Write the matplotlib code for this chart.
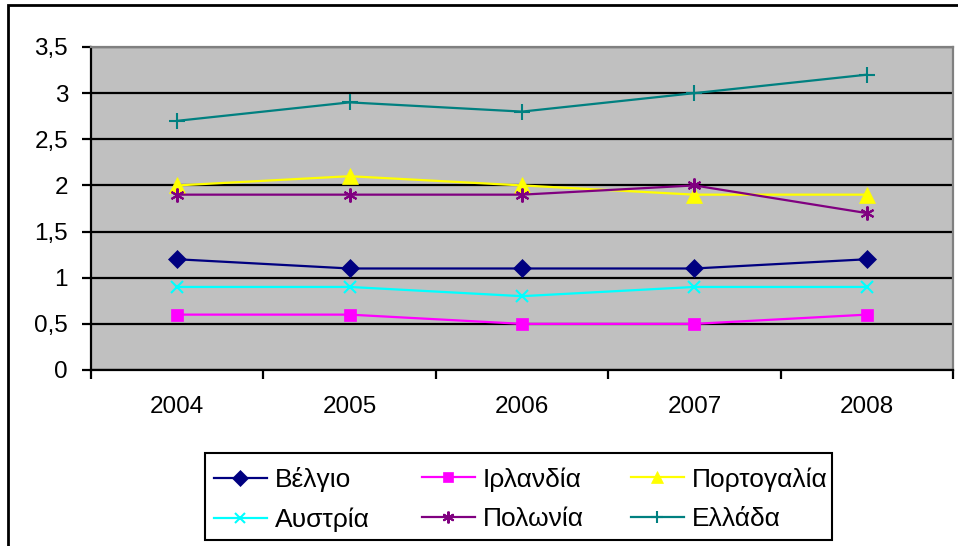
import matplotlib
matplotlib.use('agg')
import matplotlib.pyplot as plt
from matplotlib.patches import Rectangle
from matplotlib.ticker import FixedLocator, NullFormatter

plt.rcParams['font.family'] = ['Liberation Sans', 'DejaVu Sans']

# Data
years = ['2004', '2005', '2006', '2007', '2008']
belgio = [1.2, 1.1, 1.1, 1.1, 1.2]
irlandia = [0.6, 0.6, 0.5, 0.5, 0.6]
portogalia = [2.0, 2.1, 2.0, 1.9, 1.9]
afstria = [0.9, 0.9, 0.8, 0.9, 0.9]
polonia = [1.9, 1.9, 1.9, 2.0, 1.7]
ellada = [2.7, 2.9, 2.8, 3.0, 3.2]
y_ticks = [0, 0.5, 1, 1.5, 2, 2.5, 3, 3.5]

series = [
    ('Βέλγιο', belgio, '#000080', 'D', 9),
    ('Ιρλανδία', irlandia, '#FF00FF', 's', 9),
    ('Πορτογαλία', portogalia, '#FFFF00', '^', 11),
    ('Αυστρία', afstria, '#00FFFF', 'x', 8),
    ('Πολωνία', polonia, '#800080', (6, 2, 0), 10),
    ('Ελλάδα', ellada, '#008080', '+', 11),
]

W, H = 958, 546
fig = plt.figure(figsize=(W / 100, H / 100), dpi=100)
ax = fig.add_axes([91 / W, 1 - 370 / H, 862 / W, 323 / H])
ax.set_facecolor('#C0C0C0')

x = list(range(len(years)))
lines = {}
for name, vals, col, mk, ms in series:
    ln, = ax.plot(x, vals, color=col, marker=mk, markersize=ms, linewidth=1.6,
                  markeredgewidth=1.5 if mk in ('x', '+', (6, 2, 0)) else 0.5,
                  markeredgecolor=col, label=name, zorder=3)
    lines[name] = ln

ax.set_xlim(-0.5, len(years) - 0.5)
ax.set_ylim(0, 3.5)
ax.set_yticks(y_ticks)
ax.set_yticklabels([f'{v:g}'.replace('.', ',') for v in y_ticks])
ax.yaxis.grid(True, color='black', linewidth=1.6, zorder=1)
ax.set_axisbelow(True)

# category ticks between years, labels centered
ax.xaxis.set_major_locator(FixedLocator([i - 0.5 for i in range(len(years) + 1)]))
ax.xaxis.set_major_formatter(NullFormatter())
ax.xaxis.set_minor_locator(FixedLocator(x))
ax.set_xticklabels(years, minor=True)
ax.tick_params(axis='x', which='minor', length=0, pad=19, labelsize=17.5)
ax.tick_params(axis='x', which='major', length=6.5, width=1.6, direction='out')
ax.tick_params(axis='y', length=6.5, width=1.6, direction='out', labelsize=17.5, pad=10)

for s in ['left', 'bottom']:
    ax.spines[s].set_color('black')
    ax.spines[s].set_linewidth(1.6)
for s in ['top', 'right']:
    ax.spines[s].set_color('#808080')
    ax.spines[s].set_linewidth(1.6)

# legend: three equal-width columns, row-major order like the original
columns = [['Βέλγιο', 'Αυστρία'], ['Ιρλανδία', 'Πολωνία'], ['Πορτογαλία', 'Ελλάδα']]
col_x = [214, 422, 631]
for cx, names in zip(col_x, columns):
    leg = fig.legend([lines[n] for n in names], names, loc='upper left',
                     bbox_to_anchor=(cx / W, 1 - 467 / H), frameon=False,
                     fontsize=19, handlelength=2.0, handletextpad=0.3,
                     borderpad=0, borderaxespad=0, labelspacing=0.6,
                     markerscale=0.85)
fig.patches.append(Rectangle((205 / W, 1 - 540 / H), 627 / W, 87 / H,
                             transform=fig.transFigure, fill=False,
                             edgecolor='black', linewidth=1.5))

# outer chart frame
fig.patches.append(Rectangle((8 / W, -0.1), 1.2, 1 - 5 / H + 0.1,
                             transform=fig.transFigure, fill=False,
                             edgecolor='black', linewidth=2))

fig.savefig('out.png', dpi=100)
